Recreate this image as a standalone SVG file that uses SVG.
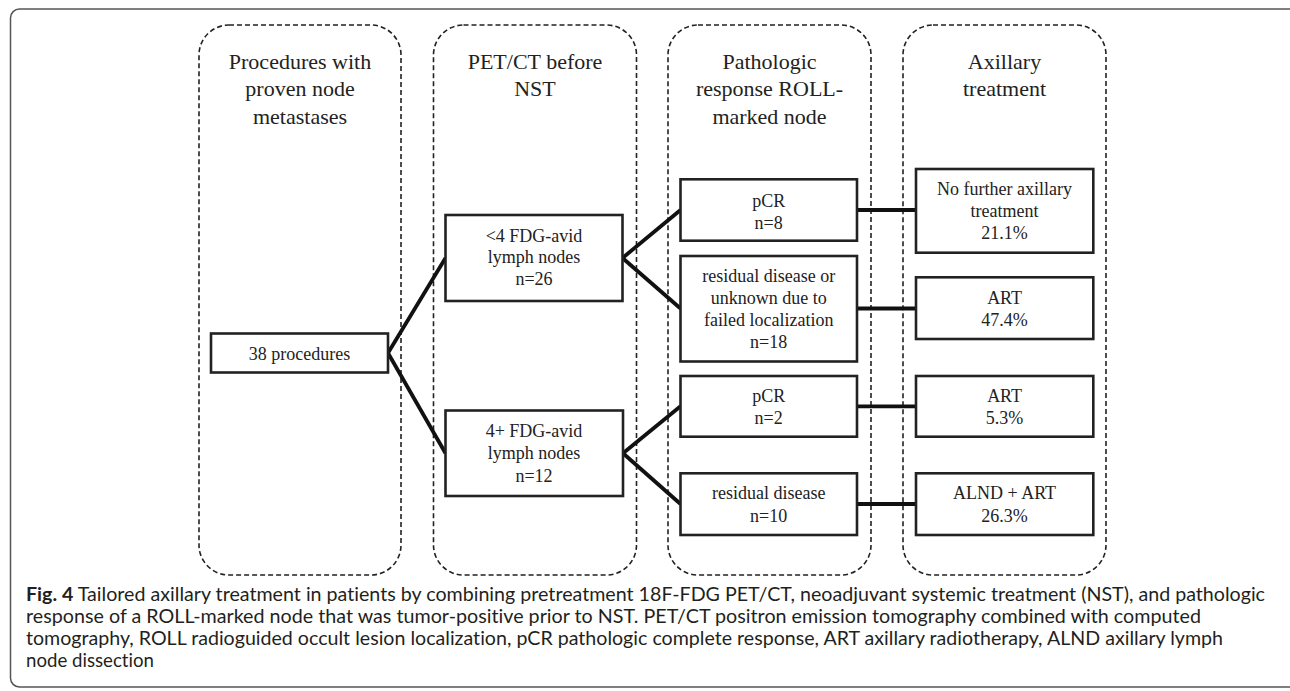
<svg xmlns="http://www.w3.org/2000/svg" width="1290" height="691" viewBox="0 0 1290 691">
<style>
.frame{fill:none;stroke:#555;stroke-width:1.5}
.col{fill:none;stroke:#222;stroke-width:1.6;stroke-dasharray:5 3}
.box{fill:#fff;stroke:#222;stroke-width:2.6}
.conn{stroke:#111;stroke-width:3.8;fill:none;stroke-linecap:butt}
.title{font-family:"Liberation Serif","Times New Roman",serif;font-size:22px;fill:#222;text-anchor:middle}
.lbl{font-family:"Liberation Serif","Times New Roman",serif;font-size:18px;fill:#222;text-anchor:middle}
.cap{font-family:Lato,"Liberation Sans",Arial,sans-serif;font-size:19px;fill:#231f20;font-variant-ligatures:none}
.capb{font-weight:bold}
</style>
<rect width="1290" height="691" fill="#fff"/>
<rect class="frame" x="10.5" y="9" width="1290" height="678" rx="9"/>

<g id="columns">
  <g id="col1">
    <rect class="col" x="199" y="25" width="202" height="550" rx="30"/>
    <text class="title"><tspan x="300" y="68.5">Procedures with</tspan><tspan x="300" y="96">proven node</tspan><tspan x="300" y="123.5">metastases</tspan></text>
  </g>
  <g id="col2">
    <rect class="col" x="433.5" y="25" width="203" height="550" rx="30"/>
    <text class="title"><tspan x="535" y="68.5">PET/CT before</tspan><tspan x="535" y="96">NST</tspan></text>
  </g>
  <g id="col3">
    <rect class="col" x="668" y="25" width="203" height="550" rx="30"/>
    <text class="title"><tspan x="769.5" y="68.5">Pathologic</tspan><tspan x="769.5" y="96">response ROLL-</tspan><tspan x="769.5" y="123.5">marked node</tspan></text>
  </g>
  <g id="col4">
    <rect class="col" x="903" y="25" width="203" height="550" rx="30"/>
    <text class="title"><tspan x="1004.5" y="68.5">Axillary</tspan><tspan x="1004.5" y="96">treatment</tspan></text>
  </g>
</g>

<g id="connectors">
  <line class="conn" x1="388" y1="353" x2="445.5" y2="258"/>
  <line class="conn" x1="388" y1="353" x2="445.5" y2="453.3"/>
  <line class="conn" x1="622.5" y1="258" x2="680.5" y2="210"/>
  <line class="conn" x1="622.5" y1="258" x2="680.5" y2="308.5"/>
  <line class="conn" x1="623" y1="453.3" x2="680.5" y2="406.3"/>
  <line class="conn" x1="623" y1="453.3" x2="680.5" y2="504"/>
  <line class="conn" x1="857" y1="210" x2="916" y2="210"/>
  <line class="conn" x1="857" y1="308.5" x2="916" y2="308.5"/>
  <line class="conn" x1="857" y1="406.3" x2="916" y2="406.3"/>
  <line class="conn" x1="857" y1="504" x2="916" y2="504"/>
</g>

<g id="n38">
  <rect class="box" x="211" y="333.5" width="177" height="39"/>
  <text class="lbl" x="299.5" y="360">38 procedures</text>
</g>
<g id="lt4">
  <rect class="box" x="445.5" y="215" width="177" height="86"/>
  <text class="lbl"><tspan x="534" y="241.5">&lt;4 FDG-avid</tspan><tspan x="534" y="263.3">lymph nodes</tspan><tspan x="534" y="285">n=26</tspan></text>
</g>
<g id="ge4">
  <rect class="box" x="445.5" y="410.5" width="177.5" height="85.5"/>
  <text class="lbl"><tspan x="534" y="437.3">4+ FDG-avid</tspan><tspan x="534" y="459.3">lymph nodes</tspan><tspan x="534" y="481.5">n=12</tspan></text>
</g>
<g id="pcr8">
  <rect class="box" x="680.5" y="179.3" width="176.5" height="61.4"/>
  <text class="lbl"><tspan x="768.7" y="207.3">pCR</tspan><tspan x="768.7" y="228.8">n=8</tspan></text>
</g>
<g id="res18">
  <rect class="box" x="680.5" y="256" width="176.5" height="105.5"/>
  <text class="lbl"><tspan x="768.7" y="281.7">residual disease or</tspan><tspan x="768.7" y="303.5">unknown due to</tspan><tspan x="768.7" y="325.7">failed localization</tspan><tspan x="768.7" y="348.3">n=18</tspan></text>
</g>
<g id="pcr2">
  <rect class="box" x="680.5" y="376" width="176.5" height="60.7"/>
  <text class="lbl"><tspan x="768.7" y="402.3">pCR</tspan><tspan x="768.7" y="424.3">n=2</tspan></text>
</g>
<g id="res10">
  <rect class="box" x="680.5" y="473.3" width="176.5" height="61.7"/>
  <text class="lbl"><tspan x="768.7" y="499.3">residual disease</tspan><tspan x="768.7" y="521.7">n=10</tspan></text>
</g>
<g id="nofurther">
  <rect class="box" x="916" y="169" width="177.3" height="83.7"/>
  <text class="lbl"><tspan x="1004.6" y="195">No further axillary</tspan><tspan x="1004.6" y="217.3">treatment</tspan><tspan x="1004.6" y="239.3">21.1%</tspan></text>
</g>
<g id="art47">
  <rect class="box" x="916" y="277.3" width="177.3" height="61.7"/>
  <text class="lbl"><tspan x="1004.6" y="304">ART</tspan><tspan x="1004.6" y="326">47.4%</tspan></text>
</g>
<g id="art5">
  <rect class="box" x="916" y="376" width="177.3" height="60.7"/>
  <text class="lbl"><tspan x="1004.6" y="402.3">ART</tspan><tspan x="1004.6" y="424.3">5.3%</tspan></text>
</g>
<g id="alnd">
  <rect class="box" x="916" y="473.3" width="177.3" height="61.7"/>
  <text class="lbl"><tspan x="1004.6" y="499.3">ALND + ART</tspan><tspan x="1004.6" y="521.7">26.3%</tspan></text>
</g>

<g id="caption">
  <text class="cap" x="26" y="601" textLength="1239" lengthAdjust="spacingAndGlyphs"><tspan class="capb">Fig. 4</tspan> Tailored axillary treatment in patients by combining pretreatment 18F-FDG PET/CT, neoadjuvant systemic treatment (NST), and pathologic</text>
  <text class="cap" x="26" y="623" textLength="1175" lengthAdjust="spacingAndGlyphs">response of a ROLL-marked node that was tumor-positive prior to NST. PET/CT positron emission tomography combined with computed</text>
  <text class="cap" x="26" y="645" textLength="1197" lengthAdjust="spacingAndGlyphs">tomography, ROLL radioguided occult lesion localization, pCR pathologic complete response, ART axillary radiotherapy, ALND axillary lymph</text>
  <text class="cap" x="26" y="667" textLength="128" lengthAdjust="spacingAndGlyphs">node dissection</text>
</g>
</svg>
